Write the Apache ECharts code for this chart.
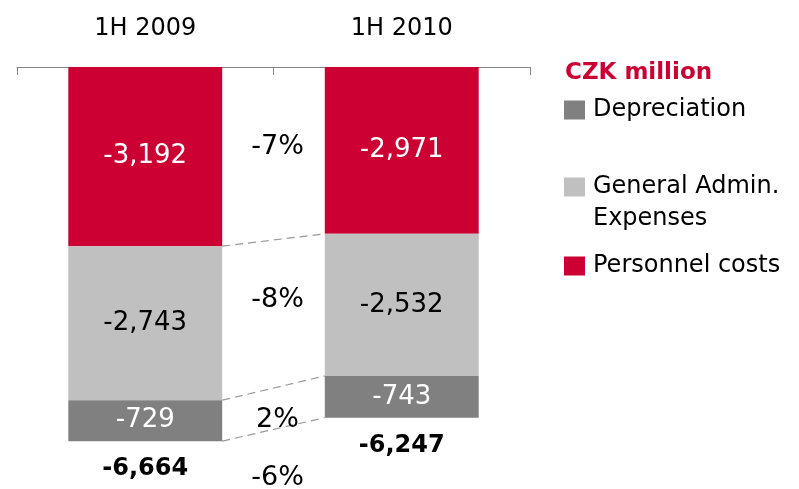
<!DOCTYPE html>
<html>
<head>
<meta charset="utf-8">
<script src="https://cdn.jsdelivr.net/npm/echarts@6/dist/echarts.min.js"></script>
<style>
  html, body { margin: 0; padding: 0; background: #fff; }
  #chart { width: 799px; height: 489px; }
</style>
</head>
<body>
<div id="chart"></div>
<script>
// data (CZK million)
var categories = ['1H 2009', '1H 2010'];
var personnel = [-3192, -2971];
var generalAdmin = [-2743, -2532];
var depreciation = [-729, -743];
var totals = [-6664, -6247];
var changes = ['-7%', '-8%', '2%', '-6%'];

var RED = '#CC0033', LIGHT = '#C0C0C0', DARK = '#808080';
var FONT = 'DejaVu Sans';

var myChart = echarts.init(document.getElementById('chart'));

// segment borders, used by the dashed connectors
var border1 = [personnel[0], personnel[1]];
var border2 = [personnel[0] + generalAdmin[0], personnel[1] + generalAdmin[1]];
var border3 = [totals[0], totals[1]];
var connectorData = [[0, border1[0], border1[1]], [0, border2[0], border2[1]], [0, border3[0], border3[1]]];

// middle of each segment, used for the change labels
var changeData = [
    [0, personnel[0] / 2, personnel[1] / 2],
    [1, personnel[0] + generalAdmin[0] / 2, personnel[1] + generalAdmin[1] / 2],
    [2, border2[0] + depreciation[0] / 2, border2[1] + depreciation[1] / 2],
    [3, totals[0], totals[1]]
];
var changeShift = [-7, -14, 11, 49];

function fmt(v) {
    return v.toLocaleString('en-US');
}

function barSeries(name, data, color, labelColor) {
    return {
        name: name,
        type: 'bar',
        stack: 'cost',
        barWidth: '60%',
        data: data,
        itemStyle: { color: color },
        label: {
            show: true,
            position: 'inside',
            color: labelColor,
            fontFamily: FONT,
            fontSize: 26,
            formatter: function (p) { return fmt(p.value); }
        }
    };
}

function legendAt(name, top, label) {
    return {
        data: [name],
        left: 564,
        top: top,
        padding: 0,
        orient: 'vertical',
        icon: 'rect',
        itemWidth: 21,
        itemHeight: 19,
        selectedMode: false,
        formatter: function () { return label || name; },
        textStyle: { fontFamily: FONT, fontSize: 24, color: '#000', padding: [0, 0, 0, 3] }
    };
}

var option = {
    animation: false,
    title: {
        text: 'CZK million',
        left: 565,
        top: 62,
        padding: 0,
        textStyle: { fontFamily: FONT, fontSize: 23, fontWeight: 'bold', color: RED }
    },
    legend: [
        legendAt('Depreciation', 98),
        legendAt('General Admin. Expenses', 175, 'General Admin.'),
        legendAt('Personnel costs', 254)
    ],
    graphic: [{
        type: 'text',
        left: 593,
        top: 207,
        style: { text: 'Expenses', fontFamily: FONT, fontSize: 24, fill: '#000' }
    }],
    grid: { left: 17, top: 67, width: 513, height: 393 },
    xAxis: {
        type: 'category',
        position: 'top',
        data: categories,
        axisLine: { lineStyle: { color: '#868686', width: 1 } },
        axisTick: { show: true, inside: true, length: 8, lineStyle: { color: '#868686' } },
        axisLabel: { margin: 26, fontFamily: FONT, fontSize: 24, color: '#000' }
    },
    yAxis: {
        type: 'value',
        min: -7000,
        max: 0,
        show: false
    },
    series: [
        barSeries('Personnel costs', personnel, RED, '#fff'),
        barSeries('General Admin. Expenses', generalAdmin, LIGHT, '#000'),
        barSeries('Depreciation', depreciation, DARK, '#fff'),
        {
            type: 'custom',
            name: 'connectors',
            data: connectorData,
            encode: { x: 0, y: [1, 2] },
            renderItem: function (params, api) {
                var p0 = api.coord([0, api.value(1)]);
                var p1 = api.coord([1, api.value(2)]);
                var half = api.size([1, 0])[0] * 0.3;
                return {
                    type: 'line',
                    shape: { x1: p0[0] + half, y1: p0[1], x2: p1[0] - half, y2: p1[1] },
                    style: { stroke: '#999999', lineWidth: 1.2, lineDash: [8, 5] }
                };
            }
        },
        {
            type: 'custom',
            name: 'changes',
            data: changeData,
            encode: { y: [1, 2] },
            renderItem: function (params, api) {
                var i = params.dataIndex;
                var p0 = api.coord([0, api.value(1)]);
                var p1 = api.coord([1, api.value(2)]);
                return {
                    type: 'text',
                    x: (p0[0] + p1[0]) / 2 + 4,
                    y: (p0[1] + p1[1]) / 2 + changeShift[i],
                    style: {
                        text: changes[i],
                        fontFamily: FONT,
                        fontSize: 27,
                        fill: '#000',
                        align: 'center',
                        verticalAlign: 'middle'
                    }
                };
            }
        },
        {
            type: 'custom',
            name: 'totals',
            data: totals.map(function (v, i) { return [i, v]; }),
            encode: { x: 0, y: 1 },
            renderItem: function (params, api) {
                var p = api.coord([api.value(0), api.value(1)]);
                return {
                    type: 'text',
                    x: p[0],
                    y: p[1] + 28,
                    style: {
                        text: fmt(api.value(1)),
                        fontFamily: FONT,
                        fontSize: 24,
                        fontWeight: 'bold',
                        fill: '#000',
                        align: 'center',
                        verticalAlign: 'middle'
                    }
                };
            }
        }
    ]
};

myChart.setOption(option);
</script>
</body>
</html>
